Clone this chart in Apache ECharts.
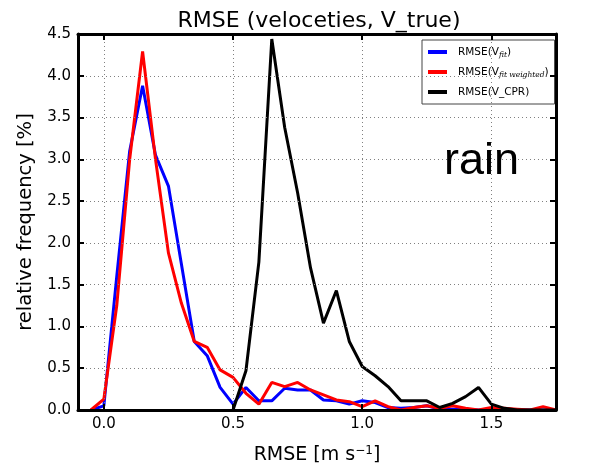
<!DOCTYPE html>
<html>
<head>
<meta charset="utf-8">
<script src="https://cdn.jsdelivr.net/npm/echarts@6/dist/echarts.min.js"></script>
<style>
  html, body { margin: 0; padding: 0; background: #fff; }
  #chart { width: 600px; height: 463px; }
</style>
</head>
<body>
<div id="chart"></div>
<script>
// RMSE bin centres [m s^-1]
const bins = [-0.05, 0.0, 0.05, 0.1, 0.15, 0.2, 0.25, 0.3, 0.35, 0.4, 0.45, 0.5,
  0.55, 0.6, 0.65, 0.7, 0.75, 0.8, 0.85, 0.9, 0.95, 1.0, 1.05, 1.1, 1.15, 1.2,
  1.25, 1.3, 1.35, 1.4, 1.45, 1.5, 1.55, 1.6, 1.65, 1.7, 1.75];

// relative frequency [%] per bin
const rmseFit = [0.0, 0.05, 1.6, 3.1, 3.88, 3.05, 2.68, 1.75, 0.82, 0.65, 0.27, 0.07,
  0.27, 0.11, 0.11, 0.26, 0.24, 0.24, 0.12, 0.11, 0.07, 0.11, 0.09, 0.03, 0.02, 0.03,
  0.05, 0.01, 0.01, 0.01, 0.0, 0.0, 0.0, 0.0, 0.0, 0.0, 0.0];

const rmseFitWeighted = [0.0, 0.13, 1.25, 3.0, 4.29, 3.0, 1.88, 1.28, 0.82, 0.75, 0.48, 0.39,
  0.2, 0.07, 0.33, 0.28, 0.33, 0.24, 0.18, 0.12, 0.1, 0.04, 0.11, 0.04, 0.0, 0.03,
  0.05, 0.02, 0.05, 0.02, 0.0, 0.03, 0.02, 0.01, 0.0, 0.04, 0.0];

const rmseCPR = [null, null, null, null, null, null, null, null, null, null, null, 0.0,
  0.47, 1.77, 4.44, 3.38, 2.6, 1.7, 1.04, 1.43, 0.82, 0.52, 0.41, 0.28, 0.11, 0.11,
  0.11, 0.03, 0.08, 0.16, 0.27, 0.07, 0.02, 0.0, 0.0, 0.0, 0.0];

const xTicks = [0.0, 0.5, 1.0, 1.5];
const seriesNames = ['RMSE(V_fit)', 'RMSE(V_fit weighted)', 'RMSE(V_CPR)'];
const legendLabels = {
  'RMSE(V_fit)': 'RMSE(V{s|fit})',
  'RMSE(V_fit weighted)': 'RMSE(V{s|fit weighted})',
  'RMSE(V_CPR)': 'RMSE(V_CPR)'
};

const pairs = vals => bins.map((x, i) => [x, vals[i]]);

const FONT = 'DejaVu Sans';
const chart = echarts.init(document.getElementById('chart'), null, { renderer: 'canvas' });

const gridLine = { show: true, lineStyle: { color: '#808080', width: 1, type: [1, 3] } };
const frameLine = { show: true, onZero: false, lineStyle: { color: '#000', width: 3 } };
const tickStyle = { show: true, inside: true, length: 6, lineStyle: { color: '#000', width: 2 } };

chart.setOption({
  backgroundColor: '#fff',
  animation: false,
  title: {
    text: 'RMSE (veloceties, V_true)',
    left: 314, top: 5, textAlign: 'center',
    textStyle: { fontFamily: FONT, fontSize: 22, fontWeight: 'normal', color: '#000' }
  },
  grid: { left: 78, right: 44, top: 34, bottom: 53, outerBoundsMode: 'none' },
  legend: {
    data: seriesNames,
    orient: 'vertical',
    left: 422, top: 40,
    padding: [5, 6, 5, 6],
    itemGap: 6,
    itemWidth: 19, itemHeight: 4,
    icon: 'rect',
    backgroundColor: '#fff',
    borderColor: '#444', borderWidth: 1,
    formatter: name => legendLabels[name],
    textStyle: {
      fontFamily: FONT, fontSize: 10.5, color: '#000', lineHeight: 14,
      padding: [0, 0, 0, 6],
      rich: {
        s: { fontFamily: 'DejaVu Serif', fontStyle: 'italic', fontSize: 7.5, lineHeight: 10,
             verticalAlign: 'bottom', color: '#000' }
      }
    }
  },
  graphic: [{
    type: 'text', left: 444, top: 139, z: 10,
    style: { text: 'rain', fontFamily: 'Liberation Sans', fontSize: 45, fill: '#000' }
  }],
  xAxis: [{
    type: 'value', position: 'bottom', min: -0.1, max: 1.75, z: 5,
    axisLine: frameLine,
    axisTick: Object.assign({ customValues: xTicks }, tickStyle),
    axisLabel: { customValues: xTicks, margin: 7, color: '#000', fontFamily: FONT, fontSize: 15,
                 formatter: v => v.toFixed(1) },
    splitLine: gridLine,
    name: 'RMSE [m s{sup|\u22121}]',
    nameLocation: 'middle', nameGap: 35,
    nameTextStyle: { fontFamily: FONT, fontSize: 19, color: '#000',
      rich: { sup: { fontFamily: FONT, fontSize: 12, verticalAlign: 'top', color: '#000', padding: [0, 0, 9, 0] } } }
  }, {
    type: 'value', position: 'top', min: -0.1, max: 1.75, z: 5,
    axisLine: frameLine,
    axisTick: Object.assign({ customValues: xTicks }, tickStyle),
    axisLabel: { show: false },
    splitLine: { show: false }
  }],
  yAxis: [{
    type: 'value', position: 'left', min: 0, max: 4.5, interval: 0.5, z: 5,
    axisLine: frameLine,
    axisTick: tickStyle,
    axisLabel: { margin: 7, color: '#000', fontFamily: FONT, fontSize: 15, formatter: v => v.toFixed(1) },
    splitLine: gridLine,
    name: 'relative frequency [%]',
    nameLocation: 'middle', nameGap: 38, nameRotate: 90,
    nameTextStyle: { fontFamily: FONT, fontSize: 19.5, color: '#000' }
  }, {
    type: 'value', position: 'right', min: 0, max: 4.5, interval: 0.5, z: 5,
    axisLine: frameLine,
    axisTick: tickStyle,
    axisLabel: { show: false },
    splitLine: { show: false }
  }],
  series: [
    { name: seriesNames[0], type: 'line', data: pairs(rmseFit), symbol: 'none',
      lineStyle: { color: '#0000ff', width: 3 }, itemStyle: { color: '#0000ff' } },
    { name: seriesNames[1], type: 'line', data: pairs(rmseFitWeighted), symbol: 'none',
      lineStyle: { color: '#ff0000', width: 3 }, itemStyle: { color: '#ff0000' } },
    { name: seriesNames[2], type: 'line', data: pairs(rmseCPR), symbol: 'none',
      lineStyle: { color: '#000000', width: 3 }, itemStyle: { color: '#000000' } }
  ]
});
</script>
</body>
</html>
